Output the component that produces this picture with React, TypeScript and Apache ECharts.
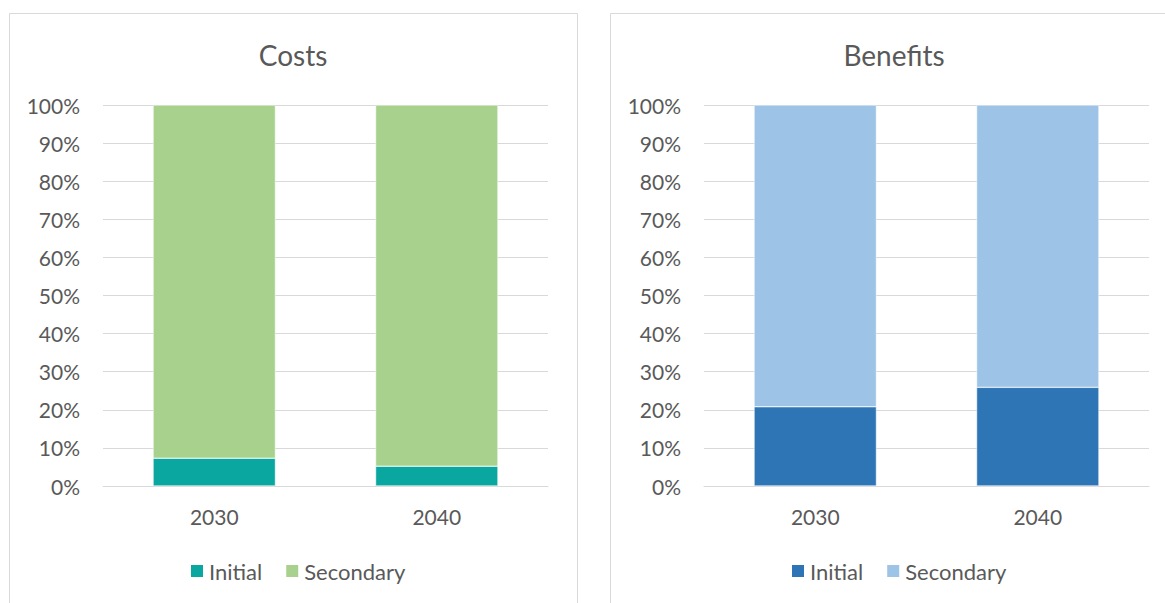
import React, { useEffect, useRef } from "react";
import * as echarts from "echarts";

const categories = ["2030", "2040"];
const costsInitial = [7.3, 5.2];
const costsSecondary = [92.7, 94.8];
const benefitsInitial = [20.8, 25.9];
const benefitsSecondary = [79.2, 74.1];
const legendNames = ["Initial", "Secondary"];
const titles = ["Costs", "Benefits"];

const FONT = "Lato, 'Open Sans', sans-serif";
const TXT = "#595959";
const GRIDC = "#d9d9d9";

export default function App() {
  const ref = useRef<HTMLDivElement>(null);
  useEffect(() => {
    document.body.style.margin = "0";
    const chart = echarts.init(ref.current!, null, { renderer: "svg" });
    const grids = [
      { left: 103, top: 105, width: 445, height: 381 },
      { left: 704, top: 105, width: 445, height: 381 },
    ];
    const xAxes = grids.map((_, i) => ({
      type: "category",
      gridIndex: i,
      data: categories,
      axisTick: { show: false },
      axisLine: { lineStyle: { color: GRIDC, width: 1 } },
      axisLabel: { color: TXT, fontSize: 21, fontFamily: FONT, margin: 20 },
    }));
    const yAxes = grids.map((_, i) => ({
      type: "value",
      gridIndex: i,
      min: 0,
      max: 100,
      interval: 10,
      axisLine: { show: false },
      axisTick: { show: false },
      splitLine: { lineStyle: { color: GRIDC, width: 1 } },
      axisLabel: {
        color: TXT,
        fontSize: 21,
        fontFamily: FONT,
        margin: 23,
        formatter: "{value}%",
      },
    }));
    const mk = (name: string, idx: number, stack: string, data: number[], color: string) => ({
      name,
      type: "bar",
      stack,
      xAxisIndex: idx,
      yAxisIndex: idx,
      data,
      barWidth: "55%",
      itemStyle: { color, borderColor: "#ffffff", borderWidth: 0.5 },
    });
    const series = [
      mk("Costs|Initial", 0, "c", costsInitial, "#0aa6a0"),
      mk("Costs|Secondary", 0, "c", costsSecondary, "#a9d18e"),
      mk("Benefits|Initial", 1, "b", benefitsInitial, "#2e75b6"),
      mk("Benefits|Secondary", 1, "b", benefitsSecondary, "#9dc3e6"),
    ];
    const legendCommon = {
      top: 555,
      itemWidth: 14,
      itemHeight: 14,
      itemGap: 22,
      icon: "rect",
      formatter: (n: string) => n.split("|")[1],
      textStyle: { color: TXT, fontSize: 22, fontFamily: FONT },
      selectedMode: false,
    };
    chart.setOption({
      animation: false,
      title: titles.map((t, i) => ({
        text: t,
        left: i === 0 ? 288 : 889,
        textAlign: "center",
        top: 36,
        textStyle: { color: TXT, fontSize: 28, fontWeight: "normal", fontFamily: FONT },
      })),
      graphic: [
        {
          type: "rect",
          shape: { x: 9.5, y: 13.5, width: 568, height: 620 },
          style: { fill: "none", stroke: GRIDC, lineWidth: 1 },
          silent: true,
        },
        {
          type: "rect",
          shape: { x: 610.5, y: 13.5, width: 600, height: 620 },
          style: { fill: "none", stroke: GRIDC, lineWidth: 1 },
          silent: true,
        },
      ],
      grid: grids,
      xAxis: xAxes,
      yAxis: yAxes,
      legend: [
        { ...legendCommon, left: 184, data: legendNames.map((n) => "Costs|" + n) },
        { ...legendCommon, left: 785, data: legendNames.map((n) => "Benefits|" + n) },
      ],
      series,
    });
    return () => chart.dispose();
  }, []);
  return <div ref={ref} style={{ position: "absolute", left: 0, top: 0, width: 1165, height: 603 }} />;
}
